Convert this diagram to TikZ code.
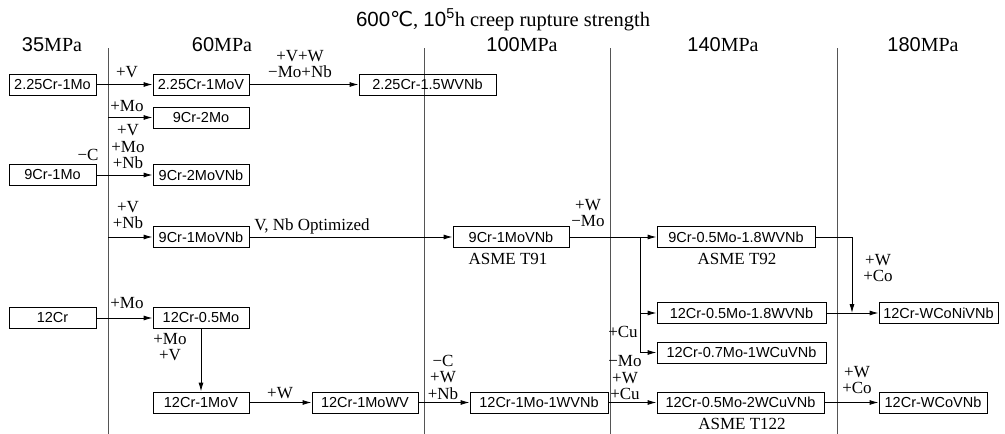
\documentclass[tikz,border=0pt]{standalone}
\usepackage{fontspec}
\setmainfont{Liberation Serif}
\setsansfont{Liberation Sans}
\newfontfamily\symfont{DejaVu Sans}
\usetikzlibrary{arrows.meta}
\definecolor{axisgray}{RGB}{85,85,85}
\tikzset{
  alloy/.style={draw, line width=0.9pt, minimum height=21pt, inner sep=1.5pt, font=\sffamily\fontsize{14.5}{14.5}\selectfont},
  elem/.style={inner sep=0pt, align=center, font=\fontsize{17}{16.5}\selectfont},
  head/.style={inner sep=0pt, font=\fontsize{20}{20}\selectfont},
  link/.style={line width=0.9pt, -{Latex[length=9pt,width=5pt]}},
  grid/.style={line width=1pt, draw=axisgray}
}

\begin{document}
\begin{tikzpicture}[x=1pt, y=-1pt]
  \useasboundingbox (0,0) rectangle (1005,434);

  % headers
  \node[head, font=\fontsize{20.5}{20.5}\selectfont] (title) at (503,20) {{\sffamily 600}{\symfont ℃}, {\sffamily 10}\textsuperscript{\sffamily 5}h creep rupture strength};
  \node[head] (p35) at (52,45) {{\sffamily 35}MPa};
  \node[head] (p60) at (222,45) {{\sffamily 60}MPa};
  \node[head] (p100) at (522,45) {{\sffamily 100}MPa};
  \node[head] (p140) at (723,45) {{\sffamily 140}MPa};
  \node[head] (p180) at (923,45) {{\sffamily 180}MPa};

  % strength bands
  \draw[grid] (108,48) -- (108,434);
  \draw[grid] (424,48) -- (424,434);
  \draw[grid] (610,48) -- (610,434);
  \draw[grid] (837,48) -- (837,434);

  % steels
  \node[alloy, minimum width=87pt] (crmo) at (52.5,84.5) {2.25Cr-1Mo};
  \node[alloy, minimum width=96pt] (crmov) at (201,84.5) {2.25Cr-1MoV};
  \node[alloy, minimum width=137pt] (crwvnb) at (427.5,84.5) {2.25Cr-1.5WVNb};
  \node[alloy, minimum width=96pt] (ninetwo) at (201,117.5) {9Cr-2Mo};
  \node[alloy, minimum width=87pt] (nineone) at (52.5,175) {9Cr-1Mo};
  \node[alloy, minimum width=96pt] (ninetwovnb) at (201,175) {9Cr-2MoVNb};
  \node[alloy, minimum width=96pt] (ninevnb) at (201,237) {9Cr-1MoVNb};
  \node[alloy, minimum width=116pt] (tnineone) at (511,237) {9Cr-1MoVNb};
  \node[alloy, minimum width=158pt] (tninetwo) at (736,237) {9Cr-0.5Mo-1.8WVNb};
  \node[alloy, minimum width=87pt] (twelve) at (52.5,318) {12Cr};
  \node[alloy, minimum width=96pt] (twelvehalf) at (201,318) {12Cr-0.5Mo};
  \node[alloy, minimum width=169pt] (twelvew) at (741.5,313) {12Cr-0.5Mo-1.8WVNb};
  \node[alloy, minimum width=119pt] (wconi) at (938.5,313) {12Cr-WCoNiVNb};
  \node[alloy, minimum width=169pt] (twelvecu) at (741.5,352.5) {12Cr-0.7Mo-1WCuVNb};
  \node[alloy, minimum width=96pt] (twelvemov) at (201,402.5) {12Cr-1MoV};
  \node[alloy, minimum width=106pt] (twelvemowv) at (365,402.5) {12Cr-1MoWV};
  \node[alloy, minimum width=138pt] (twelvewvnb) at (539,402.5) {12Cr-1Mo-1WVNb};
  \node[alloy, minimum width=167pt] (ttwelve) at (740.5,402.5) {12Cr-0.5Mo-2WCuVNb};
  \node[alloy, minimum width=108pt] (wco) at (933,402.5) {12Cr-WCoVNb};

  % grades
  \node[elem] (asme91) at (508,259) {ASME T91};
  \node[elem] (asme92) at (737,259) {ASME T92};
  \node[elem] (asme122) at (742,424) {ASME T122};

  % additions
  \node[elem] (a1) at (127,72) {+V};
  \node[elem] (a2) at (300,64) {+V+W\\−Mo+Nb};
  \node[elem] (a3) at (127,106) {+Mo};
  \node[elem] (a4) at (128,147) {+V\\+Mo\\+Nb};
  \node[elem] (a5) at (88,155) {−C};
  \node[elem] (a6) at (128,215) {+V\\+Nb};
  \node[elem] (a7) at (312,226) {V, Nb Optimized};
  \node[elem] (a8) at (588,213) {+W\\−Mo};
  \node[elem] (a9) at (878,268) {+W\\+Co};
  \node[elem] (a10) at (127,303) {+Mo};
  \node[elem] (a11) at (170,347) {+Mo\\+V};
  \node[elem] (a12) at (280,393) {+W};
  \node[elem] (a13) at (443,377) {−C\\+W\\+Nb};
  \node[elem] (a14) at (623,332) {+Cu};
  \node[elem] (a15) at (625,378) {−Mo\\+W\\+Cu};
  \node[elem] (a16) at (857,380) {+W\\+Co};

  % free ends
  \coordinate (trunka) at (108,117.5);
  \coordinate (trunkb) at (108,237);
  \coordinate (fork) at (640,237);
  \coordinate (merge) at (852,313);

  % developments
  \draw[link] (crmo) -- (crmov);
  \draw[link] (crmov) -- (crwvnb);
  \draw[link] (trunka) -- (ninetwo);
  \draw[link] (nineone) -- (ninetwovnb);
  \draw[link] (trunkb) -- (ninevnb);
  \draw[link] (ninevnb) -- (tnineone);
  \draw[link] (tnineone) -- (tninetwo);
  \draw[link] (fork) |- (twelvew.west);
  \draw[link] (fork) |- (twelvecu.west);
  \draw[link] (tninetwo.east) -| (merge);
  \draw[link] (twelvew) -- (wconi);
  \draw[link] (twelve) -- (twelvehalf);
  \draw[link] (twelvehalf) -- (twelvemov);
  \draw[link] (twelvemov) -- (twelvemowv);
  \draw[link] (twelvemowv) -- (twelvewvnb);
  \draw[link] (twelvewvnb) -- (ttwelve);
  \draw[link] (ttwelve) -- (wco);
\end{tikzpicture}
\end{document}
